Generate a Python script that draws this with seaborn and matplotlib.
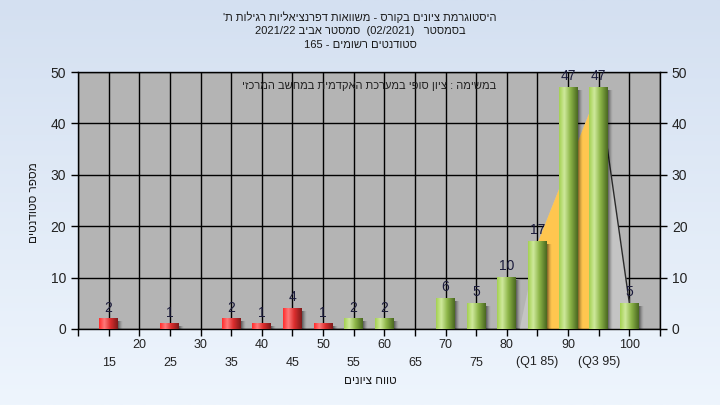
import re
import numpy as np
import pandas as pd
import matplotlib
matplotlib.use("Agg")
import matplotlib.pyplot as plt
from matplotlib.colors import LinearSegmentedColormap
import seaborn as sns

# ==========================================
# DATA
# ==========================================
GRADES = ["15", "20", "25", "30", "35", "40", "45", "50", "55", "60",
          "65", "70", "75", "80", "(Q1 85)", "90", "(Q3 95)", "100"]
COUNTS = [2, 0, 1, 0, 2, 1, 4, 1, 2, 2, 0, 6, 5, 10, 17, 47, 47, 5]
PASS_FROM = 8              # index of "55" - green bars start here
# overlay curve (category index, value)
CURVE_X = [13.4, 14, 16, 17]
CURVE_Y = [0, 17, 47, 5]

TITLE_LINES = ["היסטוגרמת ציונים בקורס - משוואות דפרנציאליות רגילות ת'",
               "בסמסטר   (02/2021)  סמסטר אביב 2021/22",
               "סטודנטים רשומים - 165"]
NOTE = "במשימה : ציון סופי במערכת האקדמית במחשב המרכזי"
XLABEL = "טווח ציונים"
YLABEL = "מספר סטודנטים"


def rtl(s):
    """matplotlib draws left to right, so flip Hebrew to visual order."""
    rev = s[::-1]
    rev = re.sub(r"[0-9/.]+", lambda m: m.group(0)[::-1], rev)
    return rev.translate(str.maketrans("()", ")("))


# ==========================================
# STYLE
# ==========================================
sns.set_style("ticks")
plt.rcParams["font.family"] = ["Liberation Sans", "DejaVu Sans"]
plt.rcParams["axes.unicode_minus"] = False

fig = plt.figure(figsize=(7.2, 4.05), dpi=100)

# light blue gradient background
bg = fig.add_axes([0, 0, 1, 1], zorder=-10)
bg_cmap = LinearSegmentedColormap.from_list("bg", ["#d4e0f1", "#eef5fd"])
bg.imshow(np.linspace(0, 1, 256)[:, None], cmap=bg_cmap, aspect="auto",
          extent=[0, 1, 0, 1])
bg.axis("off")

ax = fig.add_axes([78 / 720, 1 - 329 / 405, 582 / 720, 257 / 405])
ax.set_facecolor("#b4b4b4")

df = pd.DataFrame({"grade": GRADES, "count": COUNTS,
                   "group": ["fail" if i < PASS_FROM else "pass" for i in range(len(GRADES))]})

sns.barplot(data=df, x="grade", y="count", hue="group", order=GRADES,
            palette={"fail": "#e83030", "pass": "#9cc94a"}, dodge=False,
            width=0.62, legend=False, ax=ax, zorder=3, linewidth=0)

# overlay area (light gray) + quartile region (orange)
ax.fill_between(CURVE_X, CURVE_Y, color="#c4c4c4", lw=0, zorder=1)
ax.fill_between(CURVE_X[1:3], CURVE_Y[1:3], color="#ffc64f", lw=0, zorder=1.2)
ax.plot(CURVE_X[2:], CURVE_Y[2:], color="#2a2a2a", lw=1, zorder=1.3)

# cylinder gradients and shadows on bars
red_cmap = LinearSegmentedColormap.from_list(
    "red", [(0, "#ff2b2b"), (0.28, "#ff7a7a"), (0.6, "#dc2e2e"), (1, "#7e1a1a")])
green_cmap = LinearSegmentedColormap.from_list(
    "green", [(0, "#a4d152"), (0.28, "#cfe99c"), (0.6, "#8db548"), (1, "#4a6820")])
grad = np.linspace(0, 1, 64)[None, :]
shadow = np.zeros((1, 64, 4))
shadow[..., 3] = np.linspace(0.65, 0, 64) ** 1.5

for p in ax.patches:
    h = p.get_height()
    if h <= 0:
        continue
    x0, w = p.get_x(), p.get_width()
    idx = int(round(x0 + w / 2))
    cmap = red_cmap if idx < PASS_FROM else green_cmap
    ax.imshow(shadow, extent=[x0 + w, x0 + w + 0.14, -0.8, h - 0.6],
              aspect="auto", zorder=2.5, interpolation="bilinear")
    ax.imshow(grad, cmap=cmap, extent=[x0, x0 + w, 0, h], aspect="auto",
              zorder=3.5, interpolation="bilinear")

# value labels
for i, v in enumerate(COUNTS):
    if v > 0:
        ax.annotate(str(v), xy=(i, v), xytext=(0, 3), textcoords="offset points",
                    ha="center", va="bottom", fontsize=10, color="#1c1c3c", zorder=5)

ax.set_xlim(-1, 18)
ax.set_ylim(0, 50)
ax.set_xticks(np.arange(-1, 19))
ax.set_xticklabels([""] * 20)
ax.set_yticks(np.arange(0, 51, 10))
ax.set_xlabel("")
ax.set_ylabel("")
ax.grid(True, color="black", lw=1, zorder=0)
ax.set_axisbelow(True)
ax.tick_params(axis="both", direction="out", length=5, width=1, colors="black",
               labelsize=10, labelcolor="#222222")
for s in ax.spines.values():
    s.set_color("black")
    s.set_linewidth(1)
    s.set_visible(True)

ax2 = ax.twinx()
ax2.set_ylim(0, 50)
ax2.set_yticks(np.arange(0, 51, 10))
ax2.tick_params(axis="y", direction="out", length=5, width=1, colors="black",
                labelsize=10, labelcolor="#222222")
ax2.grid(False)
for s in ax2.spines.values():
    s.set_visible(False)

# two-row x tick labels
for i, lab in enumerate(GRADES):
    off = -16 if i % 2 == 1 else -33.5
    ax.annotate(lab, xy=(i, 0), xycoords=("data", "axes fraction"),
                xytext=(0, off * 0.72), textcoords="offset points",
                ha="center", va="center", fontsize=9, color="#222222",
                annotation_clip=False)

ax.text(0.5, 0.945, rtl(NOTE), transform=ax.transAxes, ha="center", va="center",
        fontsize=8, color="#222222", zorder=6)

for k, line in enumerate(TITLE_LINES):
    fig.text(0.5, 1 - (17 + 14 * k) / 405, rtl(line), ha="center", va="center",
             fontsize=8, color="#1a1a1a")

fig.text(370 / 720, 1 - 381 / 405, rtl(XLABEL), ha="center", va="center",
         fontsize=8.5, color="#1a1a1a")
fig.text(34 / 720, 1 - 203 / 405, rtl(YLABEL), ha="center", va="center",
         rotation=90, fontsize=8.5, color="#1a1a1a")

plt.savefig("out.png", dpi=100)
plt.close()
